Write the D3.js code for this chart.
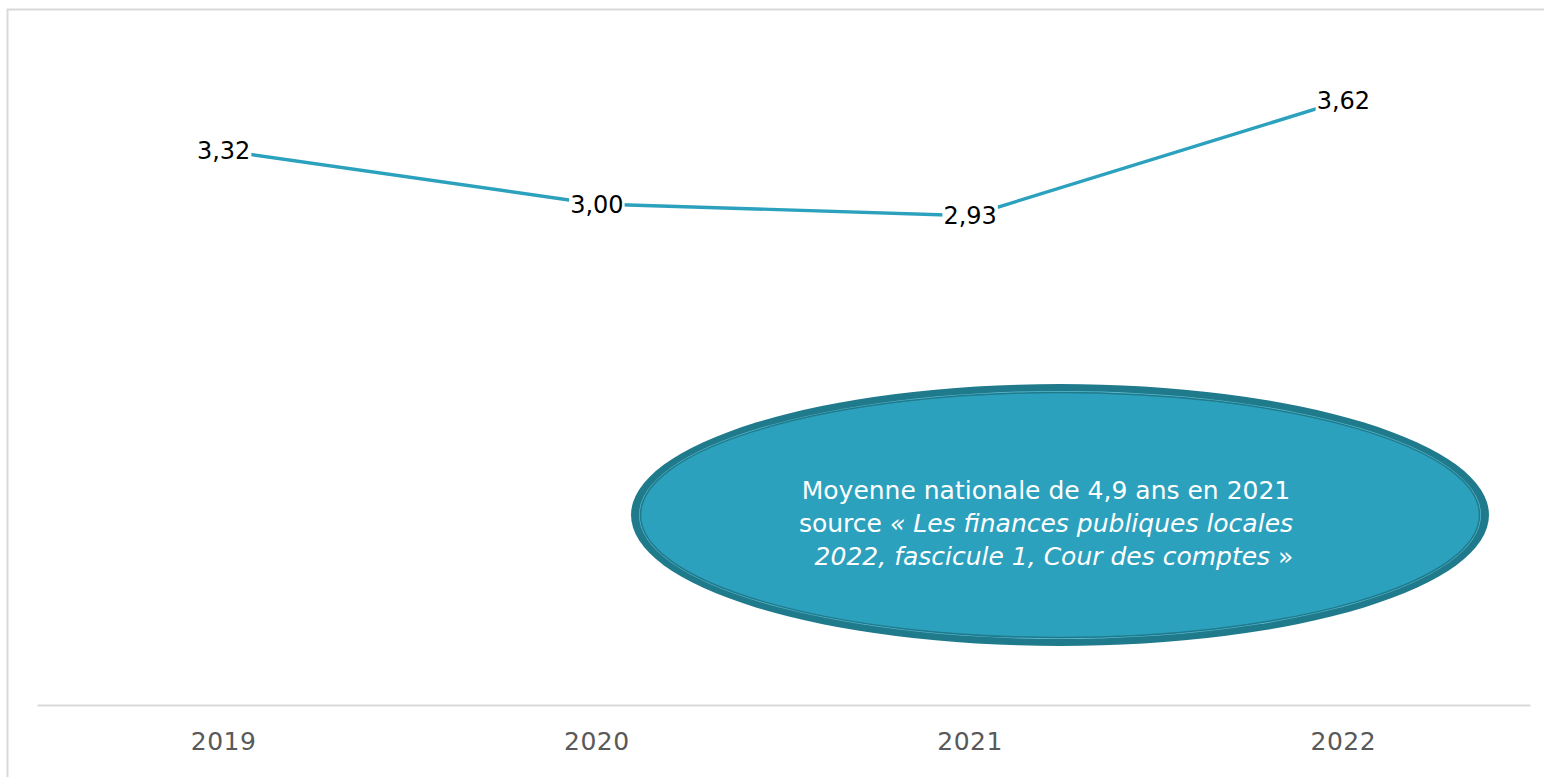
<!DOCTYPE html>
<html>
<head>
<meta charset="utf-8">
<script src="https://cdn.jsdelivr.net/npm/d3@7.9.0/dist/d3.min.js"></script>
<style>
  body { margin: 0; background: #fff; }
  svg { display: block; font-family: "DejaVu Sans", sans-serif; }
</style>
</head>
<body>
<div id="chart"></div>
<script>
// chart data
const years = ['2019', '2020', '2021', '2022'];
const values = [3.32, 3.00, 2.93, 3.62];
const valueLabels = ['3,32', '3,00', '2,93', '3,62'];
const noteLines = [
  [{ t: 'Moyenne nationale de 4,9 ans en 2021', it: false }],
  [{ t: 'source ', it: false }, { t: '« Les finances publiques locales', it: true }],
  [{ t: '2022, fascicule 1, Cour des comptes', it: true }, { t: ' »', it: false }]
];

const width = 1544;
const height = 777;

const svg = d3.select('#chart')
  .append('svg')
  .attr('width', width)
  .attr('height', height);

// frame
svg.append('rect')
  .attr('x', 7.5).attr('y', 9.5)
  .attr('width', 1600).attr('height', 800)
  .attr('fill', 'none')
  .attr('stroke', '#d9d9d9')
  .attr('stroke-width', 2);

const xScale = d3.scaleBand()
  .domain(years)
  .range([37, 1530]);

const yScale = d3.scaleLinear()
  .domain([0, 4])
  .range([705, 37]);

const xPos = d => xScale(d) + xScale.bandwidth() / 2;

// x axis
const xAxis = svg.append('g')
  .attr('transform', `translate(0, ${yScale(0)})`)
  .call(d3.axisBottom(xScale).tickSize(0).tickPadding(27));
xAxis.select('.domain').attr('stroke', '#d9d9d9').attr('stroke-width', 2);
xAxis.selectAll('text')
  .attr('fill', '#595959')
  .style('font-size', '25px')
  .style('letter-spacing', '0.5px')
  .style('font-family', '"DejaVu Sans", sans-serif');

// line
svg.append('path')
  .datum(years.map((y, i) => ({ year: y, value: values[i] })))
  .attr('fill', 'none')
  .attr('stroke', '#2ca1be')
  .attr('stroke-width', 3.4)
  .attr('d', d3.line()
    .x(d => xPos(d.year))
    .y(d => yScale(d.value)));

// value labels with white background
const lbl = svg.append('g').selectAll('g')
  .data(years.map((y, i) => ({ year: y, value: values[i], label: valueLabels[i] })))
  .join('g')
  .attr('transform', d => `translate(${xPos(d.year)}, ${yScale(d.value)})`);

lbl.append('rect').attr('fill', '#fff');
lbl.append('text')
  .attr('text-anchor', 'middle')
  .attr('dy', '0.36em')
  .style('font-size', '24px')
  .style('font-weight', '500')
  .attr('fill', '#000')
  .text(d => d.label);
lbl.each(function () {
  const b = d3.select(this).select('text').node().getBBox();
  d3.select(this).select('rect')
    .attr('x', b.x - 1).attr('y', b.y + 3)
    .attr('width', b.width + 2).attr('height', b.height - 6);
});

// note ellipse
const cx = 1060, cy = 515;
const note = svg.append('g');
note.append('ellipse')
  .attr('cx', cx).attr('cy', cy)
  .attr('rx', 429).attr('ry', 131)
  .attr('fill', '#1f7a8c');
note.append('ellipse')
  .attr('cx', cx).attr('cy', cy)
  .attr('rx', 421).attr('ry', 124)
  .attr('fill', '#5ab9cd');
note.append('ellipse')
  .attr('cx', cx).attr('cy', cy)
  .attr('rx', 419.5).attr('ry', 122.5)
  .attr('fill', '#2ca1be')
  .attr('stroke', '#1f7a8c')
  .attr('stroke-width', 1.5);

const noteText = note.append('text')
  .attr('text-anchor', 'middle')
  .attr('fill', '#fff')
  .style('font-size', '25px');
noteLines.forEach((line, i) => {
  line.forEach((seg, j) => {
    const ts = noteText.append('tspan').text(seg.t)
      .style('font-style', seg.it ? 'italic' : 'normal');
    if (j === 0) ts.attr('x', i === 2 ? 1054 : 1046).attr('y', 499 + i * 33);
  });
});
</script>
</body>
</html>
